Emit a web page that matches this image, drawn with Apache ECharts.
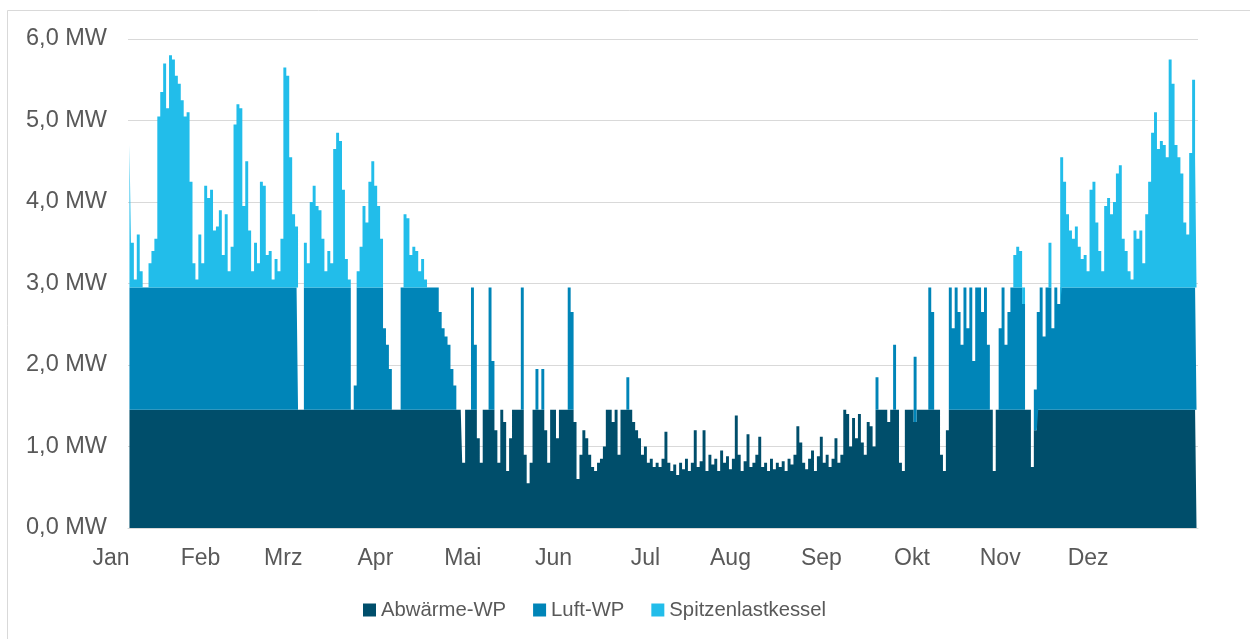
<!DOCTYPE html>
<html><head><meta charset="utf-8">
<script src="https://cdn.jsdelivr.net/npm/echarts@6/dist/echarts.min.js"></script>
<style>html,body{margin:0;padding:0;background:#fff}#c{width:1250px;height:639px}</style>
</head><body><div id="c"></div>
<script>
const monthNames = ['Jan','Feb','Mrz','Apr','Mai','Jun','Jul','Aug','Sep','Okt','Nov','Dez'];
const monthDays = [31,28,31,30,31,30,31,31,30,31,30,31];
const seriesNames = ['Abwärme-WP','Luft-WP','Spitzenlastkessel'];

// daily values in MW (one value per day, Jan..Dez)
const abwaerme = [
// Jan
1.45,1.45,1.45,1.45,1.45,1.45,1.45,1.45,1.45,1.45,1.45,1.45,1.45,1.45,1.45,1.45,1.45,1.45,1.45,1.45,1.45,1.45,1.45,1.45,1.45,1.45,1.45,1.45,1.45,1.45,1.45,
// Feb
1.45,1.45,1.45,1.45,1.45,1.45,1.45,1.45,1.45,1.45,1.45,1.45,1.45,1.45,1.45,1.45,1.45,1.45,1.45,1.45,1.45,1.45,1.45,1.45,1.45,1.45,1.45,1.45,
// Mrz
1.45,1.45,1.45,1.45,1.45,1.45,1.45,1.45,1.45,1.45,1.45,1.45,1.45,1.45,1.45,1.45,1.45,1.45,1.45,1.45,1.45,1.45,1.45,1.45,1.45,1.45,1.45,1.45,1.45,1.45,1.45,
// Apr
1.45,1.45,1.45,1.45,1.45,1.45,1.45,1.45,1.45,1.45,1.45,1.45,1.45,1.45,1.45,1.45,1.45,1.45,1.45,1.45,1.45,1.45,1.45,1.45,0.8,1.45,1.45,1.45,1.45,1.1,
// Mai
0.8,1.45,1.45,1.45,1.45,1.2,0.8,1.45,1.3,0.7,1.1,1.45,1.45,1.45,1.45,0.9,0.55,0.8,1.45,1.45,1.45,1.45,1.2,0.8,1.45,1.45,1.1,1.45,1.45,1.45,1.45,
// Jun
1.45,1.3,0.6,0.9,1.2,1.1,0.9,0.75,0.7,0.8,0.85,1.0,1.45,1.45,1.3,1.45,0.9,1.45,1.45,1.45,1.45,1.3,1.2,1.1,0.9,1.0,0.8,0.85,0.75,0.8,
// Jul
0.75,0.85,1.18,0.8,0.7,0.78,0.65,0.8,0.72,0.85,0.7,0.8,1.2,0.75,0.82,1.2,0.7,0.9,0.78,0.85,0.7,0.95,0.8,0.88,0.72,0.85,1.38,0.9,0.7,0.82,1.15,
// Aug
0.75,0.8,0.9,1.12,0.75,0.8,0.7,0.85,0.72,0.8,0.75,0.82,0.7,0.85,0.78,0.9,1.25,1.05,0.8,0.72,0.85,0.95,0.7,0.88,1.12,0.8,0.9,0.75,0.85,1.1,0.8,
// Sep
0.9,1.45,1.4,1.0,1.35,1.1,1.4,1.05,0.9,1.3,1.25,1.0,1.45,1.45,1.45,1.45,1.3,1.45,1.45,1.45,0.8,0.7,1.45,1.45,1.45,1.3,1.45,1.45,1.45,1.45,
// Okt
1.45,1.45,1.45,1.45,0.9,0.7,1.2,1.45,1.45,1.45,1.45,1.45,1.45,1.45,1.45,1.45,1.45,1.45,1.45,1.45,1.45,1.45,0.7,1.45,1.45,1.45,1.45,1.45,1.45,1.45,1.45,
// Nov
1.45,1.45,1.45,1.45,0.75,1.2,1.45,1.45,1.45,1.45,1.45,1.45,1.45,1.45,1.45,1.45,1.45,1.45,1.45,1.45,1.45,1.45,1.45,1.45,1.45,1.45,1.45,1.45,1.45,1.45,
// Dez
1.45,1.45,1.45,1.45,1.45,1.45,1.45,1.45,1.45,1.45,1.45,1.45,1.45,1.45,1.45,1.45,1.45,1.45,1.45,1.45,1.45,1.45,1.45,1.45,1.45,1.45,1.45,1.45,1.45,1.45,1.45
];

const luft = [
// Jan
1.5,1.5,1.5,1.5,1.5,1.5,1.5,1.5,1.5,1.5,1.5,1.5,1.5,1.5,1.5,1.5,1.5,1.5,1.5,1.5,1.5,1.5,1.5,1.5,1.5,1.5,1.5,1.5,1.5,1.5,1.5,
// Feb
1.5,1.5,1.5,1.5,1.5,1.5,1.5,1.5,1.5,1.5,1.5,1.5,1.5,1.5,1.5,1.5,1.5,1.5,1.5,1.5,1.5,1.5,1.5,1.5,1.5,1.5,1.5,0,
// Mrz
0,1.5,1.5,1.5,1.5,1.5,1.5,1.5,1.5,1.5,1.5,1.5,1.5,1.5,1.5,1.5,1.5,0,0.3,1.5,1.5,1.5,1.5,1.5,1.5,1.5,1.5,1.5,1.0,0.8,0.5,
// Apr
0,0,0,1.5,1.5,1.5,1.5,1.5,1.5,1.5,1.5,1.5,1.5,1.5,1.5,1.5,1.2,1.0,0.9,0.8,0.5,0.3,0,0,0,0,0,1.5,0.8,0,
// Mai
0,0,0,1.5,0.6,0,0,0,0,0,0,0,0,0,1.5,0,0,0,0,0.5,0,0.5,0,0,0,0,0,0,0,0,1.5,
// Jun
1.2,0,0,0,0,0,0,0,0,0,0,0,0,0,0,0,0,0,0,0.4,0,0,0,0,0,0,0,0,0,0,
// Jul
0,0,0,0,0,0,0,0,0,0,0,0,0,0,0,0,0,0,0,0,0,0,0,0,0,0,0,0,0,0,0,
// Aug
0,0,0,0,0,0,0,0,0,0,0,0,0,0,0,0,0,0,0,0,0,0,0,0,0,0,0,0,0,0,0,
// Sep
0,0,0,0,0,0,0,0,0,0,0,0,0.4,0,0,0,0,0,0.8,0,0,0,0,0,0,0.8,0,0,0,0,
// Okt
1.5,1.2,0,0,0,0,0,1.5,1.0,1.5,1.2,0.8,1.5,1.0,1.5,0.6,1.5,1.5,1.2,1.5,0.8,0,0,0,1.0,1.5,0.8,1.2,1.5,1.5,1.5,
// Nov
1.5,1.3,0,0,0,0.5,1.2,1.5,0.9,1.5,1.5,1.0,1.5,1.3,1.5,1.5,1.5,1.5,1.5,1.5,1.5,1.5,1.5,1.5,1.5,1.5,1.5,1.5,1.5,1.5,
// Dez
1.5,1.5,1.5,1.5,1.5,1.5,1.5,1.5,1.5,1.5,1.5,1.5,1.5,1.5,1.5,1.5,1.5,1.5,1.5,1.5,1.5,1.5,1.5,1.5,1.5,1.5,1.5,1.5,1.5,1.5,1.5
];

const spitzen = [
// Jan
1.75,0.55,0.1,0.65,0.2,0,0,0.3,0.45,0.6,2.1,2.4,2.75,2.2,2.85,2.8,2.6,2.5,2.3,2.1,2.15,1.3,0.3,0.1,0.65,0.3,1.25,1.1,1.2,0.7,0.75,
// Feb
0.95,0.4,0.9,0.2,0.5,2.0,2.25,2.2,1.0,1.55,0.7,0.2,0.55,0.3,1.3,1.25,0.4,0.45,0.1,0.35,0.2,0.6,2.7,2.6,1.6,0.9,0.75,0,
// Mrz
0,0.55,0.3,1.05,1.25,1.0,0.95,0.6,0.2,0.45,0.3,1.7,1.9,1.8,1.2,0.35,0.1,0,0,0.2,0.5,1.0,0.8,1.3,1.55,1.25,1.0,0.6,0,0,0,
// Apr
0,0,0,0,0.9,0.85,0.4,0.5,0.45,0.2,0.35,0.1,0,0,0,0,0,0,0,0,0,0,0,0,0,0,0,0,0,0,
// Mai
0,0,0,0,0,0,0,0,0,0,0,0,0,0,0,0,0,0,0,0,0,0,0,0,0,0,0,0,0,0,0,
// Jun
0,0,0,0,0,0,0,0,0,0,0,0,0,0,0,0,0,0,0,0,0,0,0,0,0,0,0,0,0,0,
// Jul
0,0,0,0,0,0,0,0,0,0,0,0,0,0,0,0,0,0,0,0,0,0,0,0,0,0,0,0,0,0,0,
// Aug
0,0,0,0,0,0,0,0,0,0,0,0,0,0,0,0,0,0,0,0,0,0,0,0,0,0,0,0,0,0,0,
// Sep
0,0,0,0,0,0,0,0,0,0,0,0,0,0,0,0,0,0,0,0,0,0,0,0,0,0,0,0,0,0,
// Okt
0,0,0,0,0,0,0,0,0,0,0,0,0,0,0,0,0,0,0,0,0,0,0,0,0,0,0,0,0,0.4,0.5,
// Nov
0.45,0.2,0,0,0,0,0,0,0,0,0.55,0,0,0,1.6,1.3,0.9,0.7,0.6,0.75,0.5,0.35,0.4,0.2,1.2,1.3,0.8,0.45,0.2,1.0,
// Dez
1.1,0.9,1.05,1.4,1.5,0.6,0.45,0.2,0.1,0.7,0.6,0.7,0.3,0.9,1.3,1.9,2.15,1.7,1.8,1.75,1.6,2.8,2.5,1.75,1.6,1.4,0.8,0.65,1.65,2.55,1.6
];

const yMax = 6, yStep = 1;

// categories: one per day, month name at first day of each month
const days = [];
const monthStartLabel = {};
monthDays.forEach(function (n, m) {
  for (let d = 1; d <= n; d++) {
    if (d === 1) monthStartLabel[days.length] = monthNames[m];
    days.push(d + '.' + (m + 1) + '.');
  }
});

const colors = ['#004E6B', '#0085B8', '#22BDEA'];
const fontFam = '"Liberation Sans", Arial, sans-serif';

function areaSeries(i, data) {
  return {
    name: seriesNames[i], type: 'line', stack: 'w', step: 'middle',
    data: data, symbol: 'none', showSymbol: false,
    lineStyle: {width: 0, color: colors[i]},
    itemStyle: {color: colors[i]},
    areaStyle: {color: colors[i], opacity: 1}
  };
}

const chart = echarts.init(document.getElementById('c'), null, {renderer: 'canvas'});
chart.setOption({
  animation: false,
  backgroundColor: '#ffffff',
  color: colors,
  textStyle: {fontFamily: fontFam},
  graphic: [{
    type: 'rect', silent: true, z: -1,
    shape: {x: 7.5, y: 10.5, width: 1300, height: 700},
    style: {fill: 'none', stroke: '#d9d9d9', lineWidth: 1}
  }],
  grid: {left: 128, right: 52, top: 39, bottom: 111, containLabel: false},
  legend: {
    left: 363, top: 600, padding: 0,
    icon: 'rect', itemWidth: 13, itemHeight: 13, itemGap: 27,
    data: seriesNames,
    textStyle: {fontSize: 20.3, color: '#595959', fontFamily: fontFam}
  },
  xAxis: {
    type: 'category',
    data: days,
    boundaryGap: true,
    axisLine: {show: true, lineStyle: {color: '#d9d9d9', width: 1}},
    axisTick: {show: false},
    axisLabel: {
      interval: function (i) { return monthStartLabel[i] !== undefined; },
      formatter: function (v, i) { return monthStartLabel[i] || ''; },
      align: 'right',
      margin: 19,
      fontSize: 23,
      color: '#595959',
      fontFamily: fontFam
    },
    splitLine: {show: false}
  },
  yAxis: {
    type: 'value',
    min: 0, max: yMax, interval: yStep,
    axisLine: {show: false},
    axisTick: {show: false},
    axisLabel: {
      margin: 21,
      fontSize: 23.5,
      color: '#595959',
      fontFamily: fontFam,
      formatter: function (v) { return v.toFixed(1).replace('.', ',') + ' MW'; }
    },
    splitLine: {lineStyle: {color: '#d9d9d9', width: 1.2}}
  },
  series: [
    areaSeries(0, abwaerme),
    areaSeries(1, luft),
    areaSeries(2, spitzen)
  ]
});
</script>
</body></html>
